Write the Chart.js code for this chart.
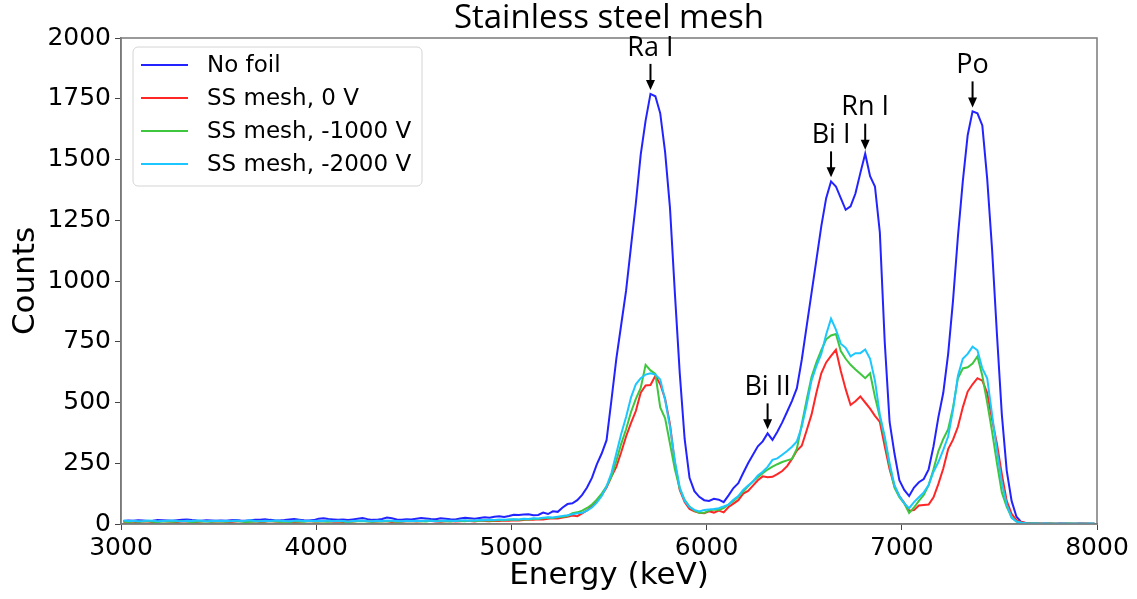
<!DOCTYPE html>
<html>
<head>
<meta charset="utf-8">
<title>Stainless steel mesh</title>
<script src="https://cdn.jsdelivr.net/npm/chart.js@4.4.1/dist/chart.umd.min.js"></script>
<style>
  html, body { margin: 0; padding: 0; background: #fff; }
  #wrap { position: relative; width: 1137px; height: 599px; }
</style>
</head>
<body>
<div id="wrap"><canvas id="spectrum"></canvas></div>
<script>
// Alpha spectra behind a stainless steel mesh, 25 keV bins

// bin centres (keV)
const energy = [
  3012.5,3037.5,3062.5,3087.5,3112.5,3137.5,3162.5,3187.5,3212.5,3237.5,3262.5,3287.5,3312.5,3337.5,3362.5,3387.5,3412.5,3437.5,3462.5,3487.5,
  3512.5,3537.5,3562.5,3587.5,3612.5,3637.5,3662.5,3687.5,3712.5,3737.5,3762.5,3787.5,3812.5,3837.5,3862.5,3887.5,3912.5,3937.5,3962.5,3987.5,
  4012.5,4037.5,4062.5,4087.5,4112.5,4137.5,4162.5,4187.5,4212.5,4237.5,4262.5,4287.5,4312.5,4337.5,4362.5,4387.5,4412.5,4437.5,4462.5,4487.5,
  4512.5,4537.5,4562.5,4587.5,4612.5,4637.5,4662.5,4687.5,4712.5,4737.5,4762.5,4787.5,4812.5,4837.5,4862.5,4887.5,4912.5,4937.5,4962.5,4987.5,
  5012.5,5037.5,5062.5,5087.5,5112.5,5137.5,5162.5,5187.5,5212.5,5237.5,5262.5,5287.5,5312.5,5337.5,5362.5,5387.5,5412.5,5437.5,5462.5,5487.5,
  5512.5,5537.5,5562.5,5587.5,5612.5,5637.5,5662.5,5687.5,5712.5,5737.5,5762.5,5787.5,5812.5,5837.5,5862.5,5887.5,5912.5,5937.5,5962.5,5987.5,
  6012.5,6037.5,6062.5,6087.5,6112.5,6137.5,6162.5,6187.5,6212.5,6237.5,6262.5,6287.5,6312.5,6337.5,6362.5,6387.5,6412.5,6437.5,6462.5,6487.5,
  6512.5,6537.5,6562.5,6587.5,6612.5,6637.5,6662.5,6687.5,6712.5,6737.5,6762.5,6787.5,6812.5,6837.5,6862.5,6887.5,6912.5,6937.5,6962.5,6987.5,
  7012.5,7037.5,7062.5,7087.5,7112.5,7137.5,7162.5,7187.5,7212.5,7237.5,7262.5,7287.5,7312.5,7337.5,7362.5,7387.5,7412.5,7437.5,7462.5,7487.5,
  7512.5,7537.5,7562.5,7587.5,7612.5,7637.5,7662.5,7687.5,7712.5,7737.5,7762.5,7787.5,7812.5,7837.5,7862.5,7887.5,7912.5,7937.5,7962.5,7987.5
];

const noFoil = [
  12,14,13,15,14,12,13,16,15,14,13,15,17,19,16,14,13,15,14,13,
  14,13,15,16,14,13,15,17,18,20,17,15,14,16,19,21,18,15,14,16,
  22,24,21,19,17,18,16,19,22,25,20,17,18,21,27,24,19,18,20,19,
  22,25,23,21,20,24,22,20,19,23,26,24,22,25,28,26,30,32,29,33,
  38,37,39,40,36,37,47,41,52,50,68,82,85,98,120,150,190,245,290,345,
  510,680,820,960,1140,1320,1520,1660,1770,1760,1690,1530,1300,950,620,350,190,135,112,98,
  95,104,100,90,118,148,168,210,250,285,320,340,373,346,380,418,462,507,559,676,
  813,950,1087,1225,1341,1410,1389,1341,1293,1307,1360,1444,1524,1431,1389,1200,750,420,290,180,
  140,115,150,172,185,225,320,440,540,700,920,1183,1410,1600,1698,1690,1640,1420,1130,780,
  450,220,95,30,8,3,2,2,1,2,1,1,2,1,1,1,2,1,1,1
];

const mesh0V = [
  8,10,9,7,11,10,8,9,12,10,9,8,10,11,9,8,10,12,9,10,
  11,9,8,10,12,9,10,11,8,9,12,10,9,11,10,8,9,11,12,10,
  10,12,11,9,10,8,11,10,12,13,11,9,10,12,11,8,10,9,11,12,
  10,11,13,12,10,9,11,12,10,11,13,12,10,14,12,11,13,12,14,13,
  15,14,16,18,17,20,19,22,24,23,27,30,35,32,44,56,74,98,118,150,
  195,235,295,360,415,465,540,570,572,610,575,515,410,250,140,90,62,52,46,44,
  52,47,55,48,70,84,98,125,136,158,180,196,192,194,205,218,238,268,302,322,
  385,450,540,620,665,692,717,630,555,490,505,525,500,475,445,420,320,225,155,115,
  87,55,57,76,78,80,110,165,228,308,347,400,480,545,575,600,590,540,430,330,
  205,95,42,16,8,4,3,2,2,1,2,1,1,2,1,1,1,2,1,1
];

const mesh1000V = [
  10,8,11,9,10,12,9,8,10,11,9,10,12,10,8,9,11,10,9,11,
  10,9,11,12,10,8,9,10,11,10,12,11,9,10,8,11,10,9,12,10,
  11,10,9,12,11,10,8,10,11,12,10,9,11,10,12,11,9,10,12,11,
  12,11,10,13,12,11,12,10,13,12,11,14,12,13,15,13,14,16,15,17,
  18,17,20,19,22,21,24,26,25,28,30,33,44,48,55,66,80,100,125,155,
  195,260,330,390,460,515,560,655,632,618,480,435,330,225,145,99,72,55,46,46,
  55,60,58,65,80,95,112,134,155,175,192,209,224,236,246,255,262,268,310,410,
  510,605,665,715,760,776,782,712,680,655,636,618,600,620,524,440,350,240,150,110,
  85,45,68,95,120,160,225,300,350,390,480,600,640,645,660,690,610,500,380,250,
  130,70,28,10,5,3,2,2,1,1,2,1,1,1,2,1,1,1,1,1
];

const mesh2000V = [
  14,12,13,11,12,14,13,11,12,13,14,12,11,13,12,14,13,11,12,13,
  12,13,11,14,12,13,15,12,11,13,12,14,13,12,11,13,14,12,13,12,
  13,12,14,11,13,12,10,12,13,14,12,11,13,12,14,13,12,11,13,12,
  13,12,14,13,11,12,14,13,12,14,15,13,14,16,15,17,16,18,17,19,
  20,19,22,21,24,23,26,28,27,30,33,36,40,44,46,55,68,88,115,155,
  210,290,370,440,520,575,600,615,620,615,595,510,400,260,150,95,70,58,52,58,
  60,62,65,72,80,100,115,140,158,175,200,215,235,264,270,285,300,318,340,400,
  490,590,650,700,780,845,800,742,725,690,703,703,718,680,590,450,360,250,160,115,
  85,65,90,110,130,160,215,255,305,360,470,610,680,700,730,715,640,600,450,300,
  170,80,25,10,5,3,2,2,1,2,1,1,1,2,1,1,1,1,2,1
];

const seriesNames = ['No foil', 'SS mesh, 0 V', 'SS mesh, -1000 V', 'SS mesh, -2000 V'];
const seriesColors = ['#2323ff', '#ff2626', '#3ec63e', '#1cc6ff'];

const xTicks = [3000, 4000, 5000, 6000, 7000, 8000];
const yTicks = [0, 250, 500, 750, 1000, 1250, 1500, 1750, 2000];

// peak markers, pinned to the "No foil" curve
const peakNames = ['Ra I', 'Bi II', 'Bi I', 'Rn I', 'Po'];
const peakEnergies = [5712.5, 6312.5, 6637.5, 6812.5, 7362.5];

const toPoints = vals => energy.map((e, i) => ({ x: e, y: vals[i] }));

const datasets = [noFoil, mesh0V, mesh1000V, mesh2000V].map((vals, i) => ({
  label: seriesNames[i],
  data: toPoints(vals),
  borderColor: seriesColors[i],
  borderWidth: 2,
  pointRadius: 0,
  tension: 0,
  fill: false,
  order: 3 - i
}));

const tickFont = { family: 'DejaVu Sans', size: 25 };

// frame, titles, legend and peak arrows
const decorations = {
  id: 'decorations',
  afterDraw(chart) {
    const { ctx, chartArea: a, scales } = chart;
    ctx.save();

    ctx.strokeStyle = '#7a7a7a';
    ctx.lineWidth = 1.5;
    ctx.strokeRect(a.left, a.top, a.right - a.left, a.bottom - a.top);

    ctx.fillStyle = '#000';
    ctx.textAlign = 'center';
    ctx.textBaseline = 'middle';
    ctx.font = '33px "Open Sans"';
    ctx.fillText('Stainless steel mesh', (a.left + a.right) / 2, 19);

    ctx.font = '31px "DejaVu Sans"';
    ctx.fillText('Energy (keV)', (a.left + a.right) / 2, 576);
    ctx.save();
    ctx.translate(26, (a.top + a.bottom) / 2);
    ctx.rotate(-Math.PI / 2);
    ctx.fillText('Counts', 0, 0);
    ctx.restore();

    // legend
    const lx = 133, ly = 47, lw = 289, lh = 139;
    ctx.beginPath();
    ctx.roundRect(lx, ly, lw, lh, 5);
    ctx.fillStyle = 'rgba(255,255,255,0.85)';
    ctx.fill();
    ctx.strokeStyle = '#d4d4d4';
    ctx.lineWidth = 1;
    ctx.stroke();
    ctx.font = '23px "DejaVu Sans"';
    ctx.textAlign = 'left';
    chart.data.datasets.forEach((ds, i) => {
      const y = 65 + i * 33;
      ctx.strokeStyle = ds.borderColor;
      ctx.lineWidth = 2;
      ctx.beginPath();
      ctx.moveTo(141, y);
      ctx.lineTo(188, y);
      ctx.stroke();
      ctx.fillStyle = '#000';
      ctx.fillText(ds.label, 207, y + 1);
    });

    // peak arrows
    ctx.font = '27px "Open Sans"';
    ctx.textAlign = 'center';
    ctx.strokeStyle = '#000';
    ctx.fillStyle = '#000';
    peakNames.forEach((name, i) => {
      const idx = energy.indexOf(peakEnergies[i]);
      const px = scales.x.getPixelForValue(peakEnergies[i]);
      const py = scales.y.getPixelForValue(noFoil[idx]);
      const tip = py - 4, top = py - 30;
      ctx.lineWidth = 2;
      ctx.beginPath();
      ctx.moveTo(px, top);
      ctx.lineTo(px, tip - 6);
      ctx.stroke();
      ctx.beginPath();
      ctx.moveTo(px - 4.5, tip - 10);
      ctx.lineTo(px, tip);
      ctx.lineTo(px + 4.5, tip - 10);
      ctx.closePath();
      ctx.fill();
      ctx.fillText(name, px, py - 46);
    });

    ctx.restore();
  }
};

new Chart(document.getElementById('spectrum'), {
  type: 'line',
  data: { datasets },
  plugins: [decorations],
  options: {
    responsive: true,
    maintainAspectRatio: false,
    animation: false,
    devicePixelRatio: 1,
    layout: { padding: { top: 38, right: 40, left: 0, bottom: 0 } },
    plugins: { legend: { display: false }, tooltip: { enabled: false }, title: { display: false } },
    scales: {
      x: {
        type: 'linear',
        min: 3000,
        max: 8000,
        afterBuildTicks: s => { s.ticks = xTicks.map(v => ({ value: v })); },
        afterFit: s => { s.height = 75; },
        ticks: { font: tickFont, color: '#000', padding: 3, maxRotation: 0, callback: v => String(v) },
        grid: { drawOnChartArea: false, tickLength: 6, color: '#444' },
        border: { color: '#7a7a7a', width: 1.5 }
      },
      y: {
        min: 0,
        max: 2000,
        afterBuildTicks: s => { s.ticks = yTicks.map(v => ({ value: v })); },
        afterFit: s => { s.width = 121; },
        ticks: { font: tickFont, color: '#000', padding: 4, callback: v => String(v) },
        grid: { drawOnChartArea: false, tickLength: 6, color: '#444' },
        border: { color: '#7a7a7a', width: 1.5 }
      }
    }
  }
});
</script>
</body>
</html>
